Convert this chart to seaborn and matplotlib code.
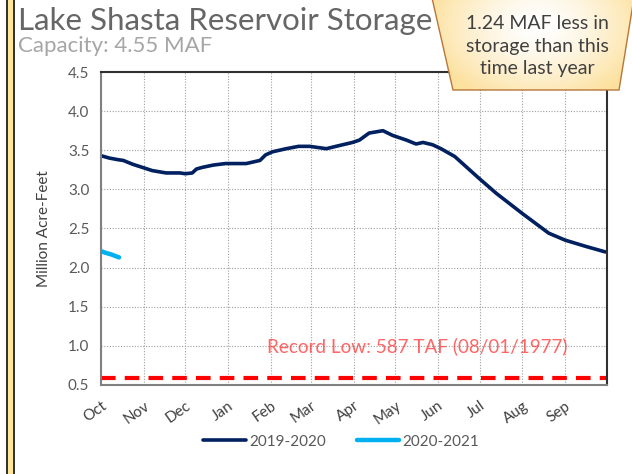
import numpy as np
import pandas as pd
import matplotlib
matplotlib.use("Agg")
import matplotlib.pyplot as plt
import seaborn as sns
from matplotlib.patches import Polygon, Rectangle

# day of water year (0 = Oct 1) and storage in million acre-feet
days_1920 = [0, 6, 12, 16, 23, 30, 37, 47, 57, 61, 66, 69, 73, 81, 90, 105, 115, 119,
             124, 134, 143, 151, 163, 170, 182, 187, 194, 204, 211, 221, 228, 233, 240,
             246, 256, 273, 286, 305, 324, 336, 351, 365]
maf_1920 = [3.43, 3.40, 3.38, 3.37, 3.32, 3.28, 3.24, 3.21, 3.21, 3.20, 3.21, 3.26, 3.28,
            3.31, 3.33, 3.33, 3.37, 3.44, 3.48, 3.52, 3.55, 3.55, 3.52, 3.55, 3.60, 3.63,
            3.72, 3.75, 3.69, 3.63, 3.58, 3.60, 3.57, 3.52, 3.42, 3.15, 2.95, 2.69,
            2.44, 2.35, 2.27, 2.20]
days_2021 = [0, 3, 7, 10, 13]
maf_2021 = [2.21, 2.19, 2.17, 2.15, 2.13]

record_low = 0.587
month_labels = ["Oct", "Nov", "Dec", "Jan", "Feb", "Mar", "Apr", "May", "Jun",
                "Jul", "Aug", "Sep"]

df = pd.concat([
    pd.DataFrame({"day": days_1920, "maf": maf_1920, "year": "2019-2020"}),
    pd.DataFrame({"day": days_2021, "maf": maf_2021, "year": "2020-2021"}),
])

sns.set_style("white")
plt.rcParams["font.family"] = ["Lato", "DejaVu Sans"]

fig = plt.figure(figsize=(6.32, 4.74), dpi=100)
ax = fig.add_axes([0.160, 0.188, 0.800, 0.660])

sns.lineplot(data=df, x="day", y="maf", hue="year",
             palette={"2019-2020": "#002060", "2020-2021": "#00B0F0"},
             ax=ax, legend=False, linewidth=2.6)
for line, lw in zip(ax.lines, [2.6, 3.2]):
    line.set_linewidth(lw)
    line.set_solid_capstyle("round")

ax.axhline(record_low, color="#FF0000", linewidth=3, dashes=(3.5, 2.2))
ax.text(229, 1.0, "Record Low: 587 TAF (08/01/1977)", color="#FF4040", alpha=0.8,
        fontsize=13.6, ha="center", va="center")

month_starts = pd.date_range("2019-10-01", "2020-10-01", freq="MS")
tick_days = (month_starts - month_starts[0]).days
ax.set_xlim(0, tick_days[-1])
ax.set_ylim(0.5, 4.5)
ax.set_xticks(tick_days)
ax.set_xticklabels(month_labels + [""], rotation=35, ha="right",
                   rotation_mode="anchor", fontsize=11, color="#404040")
ax.set_yticks(np.arange(0.5, 4.51, 0.5))
ax.set_yticklabels([f"{v:.1f}" for v in np.arange(0.5, 4.51, 0.5)],
                   fontsize=11, color="#595959")
ax.tick_params(axis="both", direction="out", length=5, width=1, color="#808080")
ax.tick_params(axis="x", pad=5)
ax.grid(True, linestyle=(0, (1, 1.5)), color="#A0A0A0", linewidth=0.8)
ax.set_xlabel("")
ax.set_ylabel("Million Acre-Feet", fontsize=11, color="#404040", labelpad=12)
for side in ["left", "bottom"]:
    ax.spines[side].set_color("#808080")
    ax.spines[side].set_linewidth(1.5)
for side in ["top", "right"]:
    ax.spines[side].set_color("#303030")
    ax.spines[side].set_linewidth(1.5)

handles = [plt.Line2D([], [], color="#002060", linewidth=2.6),
           plt.Line2D([], [], color="#00B0F0", linewidth=3.2)]
fig.legend(handles, ["2019-2020", "2020-2021"], loc="center",
           bbox_to_anchor=(0.540, 0.068), ncol=2, frameon=False, fontsize=11,
           handlelength=2.8, handletextpad=0.2, columnspacing=2.0,
           labelcolor="#595959")

fig.text(18 / 632, 1 - 21 / 474, "Lake Shasta Reservoir Storage", fontsize=22.5,
         color="#666666", va="center", ha="left")
fig.text(18 / 632, 1 - 46 / 474, "Capacity: 4.55 MAF", fontsize=16,
         color="#A6A6A6", va="center", ha="left")

# overlay axes in pixel coordinates for the border and callout
over = fig.add_axes([0, 0, 1, 1], zorder=10)
over.set_xlim(0, 632)
over.set_ylim(474, 0)
over.axis("off")
over.add_patch(Rectangle((6, 0), 2, 474, color="#333333", lw=0))
over.add_patch(Rectangle((8, 0), 5, 474, color="#FFE699", lw=0))
over.add_patch(Rectangle((13, 0), 2, 474, color="#333333", lw=0))

corners = [(432, -2), (634, -2), (619, 90), (453, 90)]
yy, xx = np.mgrid[0:92, 430:634]
r = np.sqrt(((xx - 537) / 110) ** 2 + ((yy - 25) / 80) ** 2)
r = np.clip(r, 0, 1)
c0 = np.array([1.0, 1.0, 1.0])
c1 = np.array([0.99, 0.88, 0.62])
grad = c0 + (c1 - c0) * r[..., None] ** 1.5
img = over.imshow(grad, extent=(430, 634, 92, 0), zorder=11, aspect="auto")
box = Polygon(corners, closed=True, facecolor="none", edgecolor="#B8763A",
              linewidth=1.0, zorder=12)
over.add_patch(box)
img.set_clip_path(box)
over.set_xlim(0, 632)
over.set_ylim(474, 0)
over.text(537, 46, "1.24 MAF less in\nstorage than this\ntime last year",
          fontsize=14, color="#404040", ha="center", va="center",
          linespacing=1.38, zorder=13)

fig.savefig("out.png", dpi=100)
